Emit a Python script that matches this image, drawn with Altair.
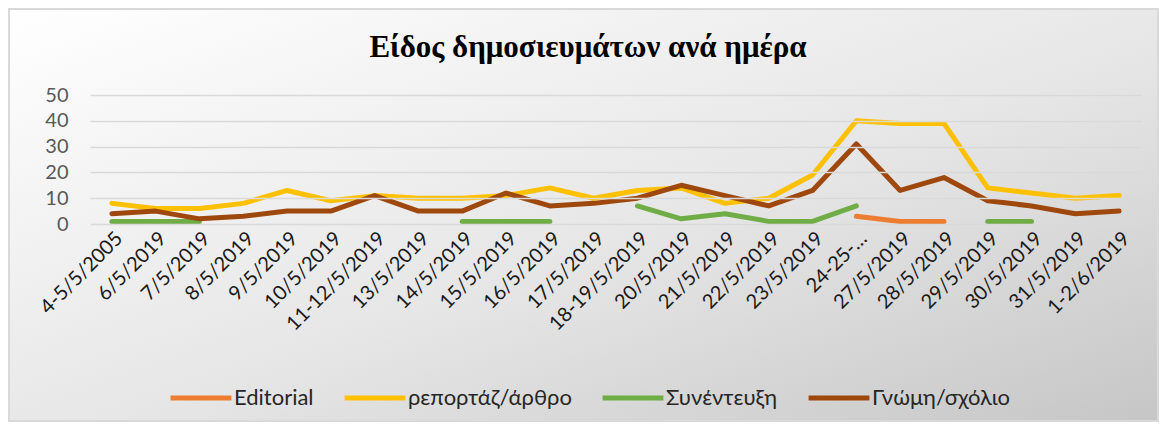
import altair as alt
import pandas as pd

categories = ["4-5/5/2005", "6/5/2019", "7/5/2019", "8/5/2019", "9/5/2019", "10/5/2019",
              "11-12/5/2019", "13/5/2019", "14/5/2019", "15/5/2019", "16/5/2019", "17/5/2019",
              "18-19/5/2019", "20/5/2019", "21/5/2019", "22/5/2019", "23/5/2019", "24-25-…",
              "27/5/2019", "28/5/2019", "29/5/2019", "30/5/2019", "31/5/2019", "1-2/6/2019"]

series_names = ["Editorial", "ρεπορτάζ/άρθρο", "Συνέντευξη", "Γνώμη/σχόλιο"]
series_colors = ["#ED7D31", "#FFC000", "#70AD47", "#9E480E"]

editorial = [None, None, None, None, None, None, None, None, None, None, None, None,
             None, None, None, None, None, 3, 1, 1, None, None, None, None]
reportaz = [8, 6, 6, 8, 13, 9, 11, 10, 10, 11, 14, 10, 13, 14, 8, 10, 19, 40, 39, 39, 14, 12, 10, 11]
synenteuxi = [1, 1, 1, None, None, None, None, None, 1, 1, 1, None,
              7, 2, 4, 1, 1, 7, None, None, 1, 1, None, None]
gnomi = [4, 5, 2, 3, 5, 5, 11, 5, 5, 12, 7, 8, 10, 15, 11, 7, 13, 31, 13, 18, 9, 7, 4, 5]

title_text = "Είδος δημοσιευμάτων ανά ημέρα"

rows = []
for name, vals in zip(series_names, [editorial, reportaz, synenteuxi, gnomi]):
    seg = 0
    prev_none = True
    for cat, v in zip(categories, vals):
        if v is None:
            prev_none = True
            continue
        if prev_none:
            seg += 1
            prev_none = False
        rows.append({"cat": cat, "val": v, "series": name, "seg": f"{name}-{seg}"})
df = pd.DataFrame(rows)

W, H = 1051, 129
PAD = {"left": 82, "top": 87, "right": 18, "bottom": 198}

bg = alt.Chart(alt.Data(values=[{}])).mark_rect(
    fill=alt.Gradient(gradient="linear",
                      stops=[alt.GradientStop(color="#ffffff", offset=0),
                             alt.GradientStop(color="#e6e6e6", offset=0.55),
                             alt.GradientStop(color="#c6c6c6", offset=1)],
                      x1=0, y1=0, x2=1, y2=1),
    stroke="#d9d9d9", strokeWidth=2, clip=False
).encode(
    x=alt.value(-81), x2=alt.value(W + PAD["right"] - 1),
    y=alt.value(-86), y2=alt.value(H + PAD["bottom"] - 1)
)

lines = alt.Chart(df).mark_line(strokeWidth=5, strokeCap="round", strokeJoin="round").encode(
    x=alt.X("cat:N", sort=categories, title=None,
            scale=alt.Scale(type="point", padding=0.5, domain=categories),
            axis=alt.Axis(labelAngle=-45, labelFont="Lato", labelFontSize=20,
                          labelColor="#1a1a1a", ticks=False, domain=False, grid=False,
                          labelPadding=4, labelLimit=300, zindex=1)),
    y=alt.Y("val:Q", title=None, scale=alt.Scale(domain=[0, 50], nice=False),
            axis=alt.Axis(values=[0, 10, 20, 30, 40, 50], labelFont="Lato", labelFontSize=20,
                          labelColor="#595959", ticks=False, domain=False, grid=True,
                          gridColor="#d9d9d9", gridWidth=1.5, labelPadding=22, zindex=1)),
    color=alt.Color("series:N", sort=series_names,
                    scale=alt.Scale(domain=series_names, range=series_colors),
                    legend=alt.Legend(title=None, orient="none", legendX=78, legendY=270,
                                      direction="horizontal", symbolType="stroke",
                                      symbolStrokeWidth=5, symbolSize=3700,
                                      labelFont="Lato", labelFontSize=22, labelColor="#262626",
                                      labelOffset=0, columnPadding=20, padding=0,
                                      labelLimit=300)),
    detail="seg:N",
)

title = alt.Chart(alt.Data(values=[{"t": title_text}])).mark_text(
    font="Liberation Serif", fontWeight="bold", fontSize=31, color="#000000",
    align="center", baseline="alphabetic"
).encode(text="t:N", x=alt.value(498), y=alt.value(-38))

chart = alt.layer(bg, lines, title).properties(
    width=W, height=H, padding=PAD, autosize="none", background="#ffffff"
).configure_view(stroke=None)

chart.save("out.html", embed_options={"renderer": "svg", "actions": False})
